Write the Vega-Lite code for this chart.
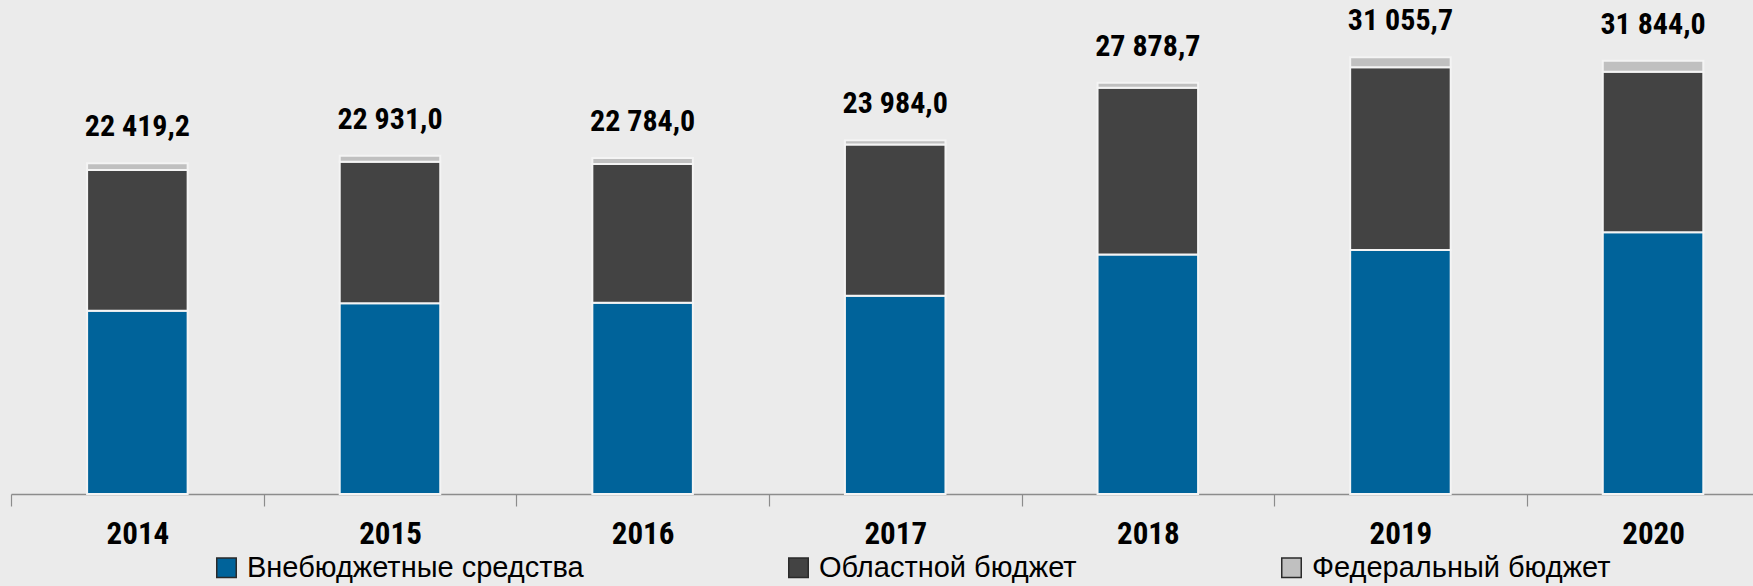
{
  "$schema": "https://vega.github.io/schema/vega-lite/v6.json",
  "width": 1742,
  "height": 494,
  "autosize": {"type": "none"},
  "padding": {"left": 11, "top": 0, "right": 0, "bottom": 92},
  "background": "#EBEBEB",
  "config": {
    "view": {"stroke": null},
    "font": "Roboto Condensed, DejaVu Sans Condensed, Roboto",
    "locale": {
      "number": {"decimal": ",", "thousands": " ", "grouping": [3], "currency": ["", " ₽"]}
    }
  },
  "data": {
    "values": [
      {"year": "2014", "source": "Внебюджетные средства", "value": 12428, "total": 22419.2},
      {"year": "2014", "source": "Областной бюджет", "value": 9537, "total": 22419.2},
      {"year": "2014", "source": "Федеральный бюджет", "value": 454, "total": 22419.2},
      {"year": "2015", "source": "Внебюджетные средства", "value": 12929, "total": 22931.0},
      {"year": "2015", "source": "Областной бюджет", "value": 9595, "total": 22931.0},
      {"year": "2015", "source": "Федеральный бюджет", "value": 407, "total": 22931.0},
      {"year": "2016", "source": "Внебюджетные средства", "value": 12970, "total": 22784.0},
      {"year": "2016", "source": "Областной бюджет", "value": 9404, "total": 22784.0},
      {"year": "2016", "source": "Федеральный бюджет", "value": 410, "total": 22784.0},
      {"year": "2017", "source": "Внебюджетные средства", "value": 13445, "total": 23984.0},
      {"year": "2017", "source": "Областной бюджет", "value": 10247, "total": 23984.0},
      {"year": "2017", "source": "Федеральный бюджет", "value": 292, "total": 23984.0},
      {"year": "2018", "source": "Внебюджетные средства", "value": 16240, "total": 27878.7},
      {"year": "2018", "source": "Областной бюджет", "value": 11300, "total": 27878.7},
      {"year": "2018", "source": "Федеральный бюджет", "value": 339, "total": 27878.7},
      {"year": "2019", "source": "Внебюджетные средства", "value": 16543, "total": 31055.7},
      {"year": "2019", "source": "Областной бюджет", "value": 12387, "total": 31055.7},
      {"year": "2019", "source": "Федеральный бюджет", "value": 678, "total": 31055.7},
      {"year": "2020", "source": "Внебюджетные средства", "value": 17743, "total": 31844.0},
      {"year": "2020", "source": "Областной бюджет", "value": 10889, "total": 31844.0},
      {"year": "2020", "source": "Федеральный бюджет", "value": 746, "total": 31844.0}
    ]
  },
  "encoding": {
    "x": {
      "field": "year",
      "type": "ordinal",
      "scale": {"paddingInner": 0.602, "paddingOuter": 0.249, "align": 0.605},
      "axis": {
        "title": null,
        "labelAngle": 0,
        "ticks": true,
        "tickOffset": -126.3,
        "labelOffset": 126.3,
        "domainColor": "#8c8c8c",
        "domainWidth": 1.5,
        "tickColor": "#8c8c8c",
        "tickWidth": 1.2,
        "tickSize": 12,
        "labelFont": "Roboto Condensed, DejaVu Sans Condensed, Roboto",
        "labelFontSize": 31,
        "labelFontWeight": "bold",
        "labelColor": "#000000",
        "labelPadding": 13,
        "grid": false
      }
    }
  },
  "layer": [
    {
      "mark": {"type": "bar", "stroke": "#f4f4f4", "strokeWidth": 2},
      "encoding": {
        "y": {
          "field": "value",
          "type": "quantitative",
          "stack": "zero",
          "scale": {"domain": [0, 33493], "nice": false},
          "axis": null
        },
        "order": {"field": "source", "type": "nominal", "sort": "ascending"},
        "color": {
          "field": "source",
          "type": "nominal",
          "scale": {
            "domain": ["Внебюджетные средства", "Областной бюджет", "Федеральный бюджет"],
            "range": ["#00639A", "#434343", "#C0C0C0"]
          },
          "legend": {
            "orient": "none",
            "legendX": 201,
            "legendY": 553,
            "direction": "horizontal",
            "title": null,
            "symbolType": "square",
            "symbolSize": 380,
            "symbolStrokeColor": "#2a2a2a",
            "symbolStrokeWidth": 1.5,
            "labelFont": "Liberation Sans",
            "labelFontSize": 29,
            "labelColor": "#000000",
            "labelOffset": 6,
            "labelLimit": 0,
            "columnPadding": 200
          }
        }
      }
    },
    {
      "mark": {"type": "text", "fontWeight": "bold", "fontSize": 30, "dy": -36, "baseline": "middle", "color": "#000000", "font": "Roboto Condensed, DejaVu Sans Condensed, Roboto"},
      "encoding": {
        "y": {"aggregate": "sum", "field": "value", "type": "quantitative"},
        "text": {"field": "total", "type": "quantitative", "format": ",.1f"}
      }
    }
  ]
}
